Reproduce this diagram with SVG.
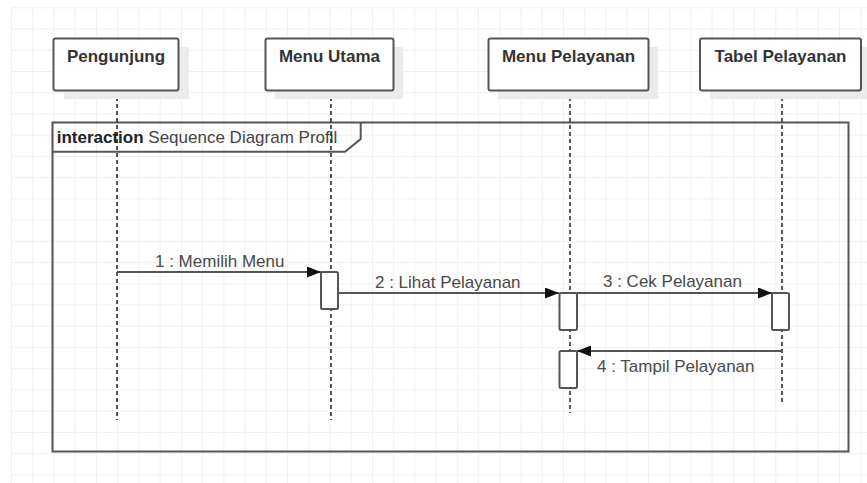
<svg xmlns="http://www.w3.org/2000/svg" width="867" height="483" viewBox="0 0 867 483">
  <defs>
    <pattern id="grid" patternUnits="userSpaceOnUse" x="11.06" y="7.3" width="21.23" height="21.23">
      <path d="M0 0.5 H21.23 M0.5 0 V21.23" fill="none" stroke="#efefef" stroke-width="1"/>
    </pattern>
    <marker id="arr" viewBox="0 0 14 11" refX="14" refY="5.5" markerWidth="14" markerHeight="11" markerUnits="userSpaceOnUse" orient="auto">
      <path d="M0 0 L14 5.5 L0 11 Z" fill="#111"/>
    </marker>
    <style>
      .box { fill: #fff; stroke: #555; stroke-width: 2; }
      .shadow { fill: #ebebeb; }
      .nlabel { font-family: "Liberation Sans", Arial, sans-serif; font-size: 17px; font-weight: bold; fill: #333; text-anchor: middle; }
      .life { stroke: #222; stroke-width: 1.5; stroke-dasharray: 4 3; fill: none; }
      .act { fill: #fff; stroke: #555; stroke-width: 2; }
      .msg { stroke: #555; stroke-width: 2; fill: none; marker-end: url(#arr); }
      .mlabel { font-family: "Liberation Sans", Arial, sans-serif; font-size: 17px; fill: #4a4a4a; }
      .frame { fill: none; stroke: #555; stroke-width: 2; }
    </style>
  </defs>
  <rect width="867" height="483" fill="#fff"/>
  <rect x="11" y="7" width="856" height="476" fill="url(#grid)"/>

  <g id="frame">
    <rect class="frame" x="52.5" y="122.5" width="796" height="329"/>
    <path class="frame" d="M52.5 151.7 H345 L360.7 139 V122.5"/>
    <text x="56.7" y="142.7" font-family="Liberation Sans, Arial, sans-serif" font-size="17"><tspan font-weight="bold" fill="#222">interaction</tspan><tspan fill="#444"> Sequence Diagram Profil</tspan></text>
  </g>

  <g id="lifelines">
    <line class="life" x1="117" y1="90" x2="117" y2="420"/>
    <line class="life" x1="331" y1="90" x2="331" y2="420"/>
    <line class="life" x1="570" y1="90" x2="570" y2="413"/>
    <line class="life" x1="782" y1="90" x2="782" y2="405"/>
  </g>

  <g id="node-pengunjung">
    <rect class="shadow" x="64" y="47" width="125" height="52"/>
    <rect class="box" x="53.5" y="38.5" width="125" height="52" rx="2"/>
    <text class="nlabel" x="116" y="62">Pengunjung</text>
  </g>
  <g id="node-menu-utama">
    <rect class="shadow" x="275" y="47" width="128" height="52"/>
    <rect class="box" x="265.5" y="38.5" width="128" height="52" rx="2"/>
    <text class="nlabel" x="329.5" y="62">Menu Utama</text>
  </g>
  <g id="node-menu-pelayanan">
    <rect class="shadow" x="498" y="47" width="160" height="52"/>
    <rect class="box" x="488.5" y="38.5" width="160" height="52" rx="2"/>
    <text class="nlabel" x="568.5" y="62">Menu Pelayanan</text>
  </g>
  <g id="node-tabel-pelayanan">
    <rect class="shadow" x="710" y="47" width="161" height="52"/>
    <rect class="box" x="700" y="38.5" width="161" height="52" rx="2"/>
    <text class="nlabel" x="780.5" y="62">Tabel Pelayanan</text>
  </g>

  <g id="activations">
    <rect class="act" x="321" y="272" width="17" height="37" rx="1.5"/>
    <rect class="act" x="559.5" y="293" width="17.5" height="37" rx="1.5"/>
    <rect class="act" x="772" y="293" width="17" height="37" rx="1.5"/>
    <rect class="act" x="559.5" y="351" width="17.5" height="37" rx="1.5"/>
  </g>

  <g id="connectors">
    <line class="msg" x1="117" y1="272" x2="321" y2="272"/>
    <text class="mlabel" x="155" y="267">1 : Memilih Menu</text>
    <line class="msg" x1="338" y1="293" x2="559" y2="293"/>
    <text class="mlabel" x="375" y="288">2 : Lihat Pelayanan</text>
    <line class="msg" x1="577" y1="293" x2="772" y2="293"/>
    <text class="mlabel" x="603" y="287">3 : Cek Pelayanan</text>
    <line class="msg" x1="781" y1="351" x2="577" y2="351"/>
    <text class="mlabel" x="597" y="372">4 : Tampil Pelayanan</text>
  </g>
</svg>
